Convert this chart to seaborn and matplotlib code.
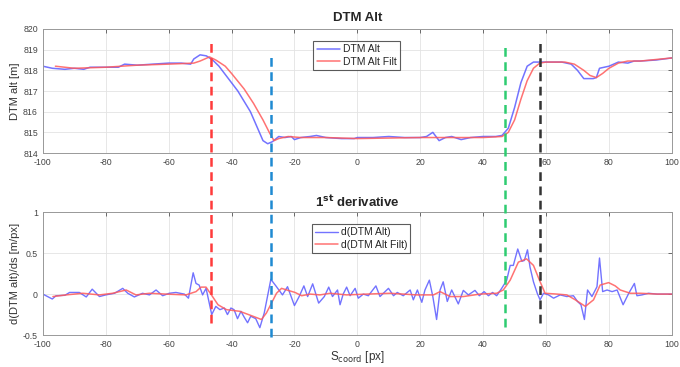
import numpy as np
import pandas as pd
import matplotlib
matplotlib.use("Agg")
import matplotlib.pyplot as plt
import seaborn as sns
from matplotlib.lines import Line2D
from matplotlib.transforms import blended_transform_factory

# ---------------- data ----------------
alt_x = [-100, -97, -93, -90, -87, -85, -80, -76, -74, -70, -65, -60, -56, -53, -52, -50, -48,
         -46, -44, -42, -40, -38, -36, -34, -32, -30, -28.5, -27, -25, -23, -21, -20, -18, -15,
         -13, -10, -5, -1, 0, 5, 10, 15, 20, 22, 24, 26, 28, 30, 33, 36, 40, 44, 46, 48, 50, 52,
         54, 56, 60, 65, 68, 70, 72, 75, 76, 77, 80, 83, 86, 88, 90, 95, 100]
alt_y = [818.2, 818.1, 818.05, 818.1, 818.05, 818.15, 818.15, 818.15, 818.3, 818.25, 818.3, 818.35,
         818.35, 818.3, 818.55, 818.75, 818.7, 818.5, 818.2, 817.8, 817.4, 817.0, 816.5, 816.0,
         815.3, 814.6, 814.45, 814.55, 814.8, 814.75, 814.8, 814.65, 814.75, 814.8, 814.85,
         814.75, 814.7, 814.7, 814.75, 814.75, 814.8, 814.75, 814.75, 814.8, 815.0, 814.6, 814.75,
         814.8, 814.65, 814.75, 814.8, 814.8, 814.85, 815.2, 816.2, 817.4, 818.2, 818.4, 818.4,
         818.4, 818.3, 818.0, 817.6, 817.6, 817.65, 818.1, 818.2, 818.4, 818.35, 818.45, 818.45,
         818.5, 818.6]

filt_x = [-96, -90, -80, -70, -60, -52, -50, -47, -45, -42, -40, -36, -33, -30, -28, -26.5, -25,
          -22, -18, -10, 0, 20, 40, 46, 48, 50, 52, 54, 56, 58, 60, 66, 69, 72, 74, 76, 78, 80,
          83, 86, 90, 100]
filt_y = [818.2, 818.1, 818.15, 818.25, 818.3, 818.35, 818.45, 818.65, 818.5, 818.2, 817.85, 817.1,
          816.4, 815.6, 815.0, 814.6, 814.7, 814.8, 814.75, 814.75, 814.7, 814.75, 814.75, 814.8,
          815.0, 815.6, 816.6, 817.5, 818.1, 818.35, 818.4, 818.4, 818.3, 818.0, 817.75, 817.65,
          817.85, 818.1, 818.35, 818.45, 818.45, 818.6]

der_x = [-100, -97, -95.8, -93, -91.5, -88.4, -86.2, -84.3, -82, -80, -77.2, -74.6, -73, -70.9,
         -68.3, -66.1, -64, -61.9, -59.8, -57.7, -55, -53.7, -52.2, -51.3, -50.3, -49.2, -48.1,
         -46.3, -45, -43.7, -42.3, -41.3, -40.2, -39.2, -38.1, -37.0, -36, -34.9, -33.9, -32.3,
         -31, -29.6, -27.5, -25.9, -23.8, -22.2, -20, -18.5, -17, -15.8, -14.2, -12.3, -10.5,
         -9.1, -7.9, -6.3, -5.5, -4.5, -3.4, -2.3, -0.7, 0.3, 1.9, 3.5, 5.9, 7.2, 9.9, 11.5,
         12.7, 14.6, 16.8, 17.8, 19.1, 20.5, 21.5, 22.9, 24, 25.2, 26.3, 27.3, 28.6, 30, 32.1,
         33.7, 35.3, 37.4, 38.8, 40.3, 41.7, 43, 44.3, 45.9, 47.5, 48.6, 49.6, 51, 52.3, 53.1,
         54.1, 54.9, 56, 57.2, 58.1, 59.2, 60.8, 62.4, 64.5, 66.6, 68.7, 70, 71.1, 72.2, 73.2,
         74.6, 76.2, 77, 78, 79.4, 81, 82.6, 84.5, 86.3, 88.1, 88.9, 90.5, 92.6, 95.3, 100]
der_y = [0, -0.06, -0.02, -0.015, 0.02, 0.02, -0.035, 0.06, -0.03, -0.01, 0.01, 0.07, 0.01,
         -0.035, 0.01, -0.01, 0.05, -0.02, 0.01, 0.02, 0.0, -0.05, 0.26, 0.13, 0.11, -0.01, 0.07,
         -0.25, -0.15, -0.19, -0.17, -0.25, -0.17, -0.19, -0.30, -0.21, -0.28, -0.35, -0.27,
         -0.30, -0.41, -0.23, 0.18, 0.10, -0.01, 0.09, -0.14, -0.03, 0.10, -0.03, 0.125, -0.11,
         -0.03, 0.085, -0.03, 0.05, -0.13, 0.0, 0.085, -0.02, 0.07, -0.05, 0.0, -0.02, 0.1,
         -0.03, 0.07, -0.02, 0.02, -0.02, 0.05, -0.07, 0.05, -0.1, 0.05, 0.17, -0.03, -0.31,
         0.05, 0.15, -0.09, 0.05, -0.12, 0.045, -0.01, 0.045, -0.02, 0.03, -0.02, 0.02, -0.02,
         0.07, 0.17, 0.35, 0.35, 0.55, 0.40, 0.41, 0.54, 0.33, 0.15, 0.01, -0.07, 0.01, -0.01,
         -0.05, -0.01, -0.03, -0.02, -0.09, -0.13, -0.31, 0.05, -0.03, 0.09, 0.44, 0.03, 0.05,
         0.03, 0.05, -0.13, 0.01, 0.13, -0.02, -0.01, 0.01, 0.0, 0.0]

dfilt_x = [-96.8, -92.6, -87.3, -82, -77.8, -73.5, -70.4, -66.1, -60.8, -54.5, -51.3, -49.7,
           -48.1, -46.4, -44.3, -41.6, -37.4, -33.2, -30.5, -28.9, -27.3, -25.7, -24.1, -22,
           -19.8, -17.7, -15, -11.9, -8.7, -3.4, 3, 10.4, 18.9, 24.2, 26.3, 29.5, 33.7, 39,
           44.3, 46.4, 48.6, 51.2, 53.8, 56, 57.9, 59.7, 63.5, 66.6, 69.3, 72.5, 75.1, 77.2,
           79.9, 82, 83.6, 86.8, 90, 95.3, 100]
dfilt_y = [-0.03, -0.01, 0.01, -0.01, 0.01, 0.05, -0.01, 0.01, 0, -0.01, 0.03, 0.085, 0.085,
           -0.01, -0.13, -0.19, -0.21, -0.27, -0.31, -0.23, -0.11, 0.01, 0.07, 0.045, 0.02,
           -0.02, 0, -0.01, 0.01, -0.01, 0, 0.01, -0.01, -0.01, 0.03, -0.03, -0.03, 0, 0.01,
           0.05, 0.17, 0.39, 0.43, 0.35, 0.17, 0.01, 0, -0.01, -0.07, -0.15, -0.07, 0.11, 0.14,
           0.10, 0.05, 0.01, 0.01, 0, 0]

marker_x = [-46.5, -27.5, 47, 58]
marker_colors = ["#ff3b3b", "#1f8ad2", "#2ecc71", "#333333"]
marker_y0 = [0.120, 0.082, 0.109, 0.120]
marker_y1 = [0.888, 0.850, 0.883, 0.888]

x_ticks = [-100, -80, -60, -40, -20, 0, 20, 40, 60, 80, 100]
top_ticks = [814, 815, 816, 817, 818, 819, 820]
bot_ticks = [-0.5, 0, 0.5, 1]

# ---------------- plot ----------------
sns.set_style("white")
plt.rcParams["font.family"] = ["Liberation Sans", "DejaVu Sans"]
plt.rcParams["axes.unicode_minus"] = False

fig = plt.figure(figsize=(6.8, 3.67), dpi=100)
ax1 = fig.add_axes([0.063, 0.583, 0.925, 0.338])
ax2 = fig.add_axes([0.063, 0.087, 0.925, 0.335])

blue = "#5a5aff"
red = "#ff5a5a"

df_alt = pd.DataFrame({"x": alt_x, "y": alt_y})
df_filt = pd.DataFrame({"x": filt_x, "y": filt_y})
df_der = pd.DataFrame({"x": der_x, "y": der_y})
df_dfilt = pd.DataFrame({"x": dfilt_x, "y": dfilt_y})

sns.lineplot(data=df_alt, x="x", y="y", ax=ax1, color=blue, lw=1.1, alpha=0.85,
             label="DTM Alt", sort=False)
sns.lineplot(data=df_filt, x="x", y="y", ax=ax1, color=red, lw=1.1, alpha=0.85,
             label="DTM Alt Filt", sort=False)
sns.lineplot(data=df_der, x="x", y="y", ax=ax2, color=blue, lw=1.0, alpha=0.85,
             label="d(DTM Alt)", sort=False)
sns.lineplot(data=df_dfilt, x="x", y="y", ax=ax2, color=red, lw=1.1, alpha=0.85,
             label="d(DTM Alt Filt)", sort=False)

for ax, yt, ylim in [(ax1, top_ticks, (814, 820)), (ax2, bot_ticks, (-0.5, 1))]:
    ax.set_xlim(-100, 100)
    ax.set_ylim(*ylim)
    ax.set_xticks(x_ticks)
    ax.set_yticks(yt)
    ax.set_yticklabels([f"{t:g}" for t in yt])
    ax.grid(True, color="#e3e3e3", lw=0.6)
    ax.tick_params(axis="both", labelsize=6.3, colors="#555555", direction="in",
                   length=3, width=0.6, top=True, right=True, labelcolor="#444444")
    for s in ax.spines.values():
        s.set_color("#999999")
        s.set_linewidth(0.7)
    ax.set_xlabel("")

ax1.set_ylabel("DTM alt [m]", fontsize=8, color="#333333", labelpad=2)
ax2.set_ylabel("d(DTM alt)/ds [m/px]", fontsize=8, color="#333333", labelpad=2)
ax2.set_xlabel("S$_{\\mathrm{coord}}$ [px]", fontsize=8.5, color="#333333")
ax2.xaxis.set_label_coords(0.5, -0.115)
ax1.set_title("DTM Alt", fontsize=9.5, fontweight="bold", pad=6)
ax2.set_title("1$^{\\mathbf{st}}$ derivative", fontsize=9.5, fontweight="bold", pad=4)

leg1 = ax1.legend(loc="upper left", bbox_to_anchor=(0.422, 0.945), fontsize=7.5,
                  frameon=True, fancybox=False, edgecolor="#333333", handlelength=2.2,
                  borderpad=0.3, labelspacing=0.25, handletextpad=0.3)
leg1.get_frame().set_linewidth(0.8)
leg2 = ax2.legend(loc="upper left", bbox_to_anchor=(0.419, 0.945), fontsize=7.5,
                  frameon=True, fancybox=False, edgecolor="#333333", handlelength=2.2,
                  borderpad=0.3, labelspacing=0.25, handletextpad=0.3)
leg2.get_frame().set_linewidth(0.8)

trans = blended_transform_factory(ax1.transData, fig.transFigure)
for xv, c, y0, y1 in zip(marker_x, marker_colors, marker_y0, marker_y1):
    ln = Line2D([xv, xv], [y0, y1], transform=trans, color=c, lw=1.8,
                linestyle=(0, (3.5, 2.2)), zorder=10)
    fig.add_artist(ln)

fig.savefig("out.png", dpi=100)
